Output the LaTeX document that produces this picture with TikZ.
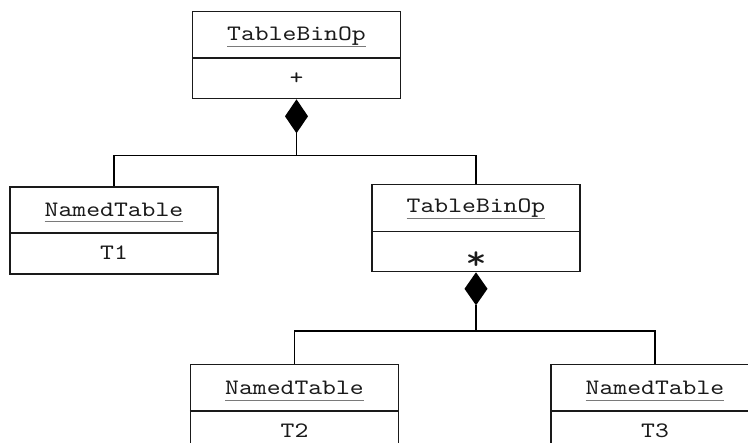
\documentclass[tikz,border=0pt]{standalone}
\usepackage{fontspec}
\setmonofont{lmmono10-regular}[Extension=.otf, FakeStretch=1.2]
\usetikzlibrary{calc}
\definecolor{ulgray}{HTML}{7A7A7A}
\definecolor{ink}{HTML}{1A1A1A}
% underlined class/object name
\newsavebox\ulbox
\newcommand\ulname[1]{\sbox\ulbox{#1}\rlap{\color{ulgray}\rule[-6pt]{\wd\ulbox}{1pt}}\usebox\ulbox}

\begin{document}
\begin{tikzpicture}[x=1pt,y=-1pt,
  objbox/.style={draw=ink, line width=1.3pt, minimum width=208pt, minimum height=87pt,
    inner sep=0pt, anchor=north},
  divider/.style={draw=ink, line width=1.3pt},
  title/.style={font=\fontsize{22}{22}\selectfont\ttfamily, text=ink, inner sep=0pt, anchor=base},
  value/.style={font=\fontsize{22}{22}\selectfont\ttfamily, text=ink, inner sep=0pt, anchor=center},
  conn/.style={draw=black, line width=1.6pt},
  composite/.style={fill=black}
]
\useasboundingbox (0,0) rectangle (748,443);
\clip (0,0) rectangle (748,443);

% object boxes
\node[objbox] (b1) at (296.5,11) {};
\node[objbox] (b2) at (114,186.5) {};
\node[objbox] (b3) at (476,184) {};
\node[objbox] (b4) at (294.5,364) {};
\node[objbox] (b5) at (655,364) {};

% compartment dividers
\draw[divider] (b1.west |- 0,58) -- (b1.east |- 0,58);
\draw[divider] (b2.west |- 0,233) -- (b2.east |- 0,233);
\draw[divider] (b3.west |- 0,231.5) -- (b3.east |- 0,231.5);
\draw[divider] (b4.west |- 0,411) -- (b4.east |- 0,411);
\draw[divider] (b5.west |- 0,411) -- (b5.east |- 0,411);

% names
\node[title] (t1) at (296.5,41) {\ulname{TableBinOp}};
\node[title] (t2) at (114,216.5) {\ulname{NamedTable}};
\node[title] (t3) at (476,213) {\ulname{TableBinOp}};
\node[title] (t4) at (294.5,395) {\ulname{NamedTable}};
\node[title] (t5) at (655,395) {\ulname{NamedTable}};

% values
\node[value] (v1) at (296.5,78.5) {+};
\node[value] (v2) at (114,252.5) {T1};
\node[value, font=\fontsize{34}{34}\selectfont\ttfamily] (v3) at (476,261) {*};
\node[value] (v4) at (294.5,431) {T2};
\node[value] (v5) at (655,431) {T3};

% composition diamonds
\fill[composite] (b1.south) -- ++(11.5,17) -- ++(-11.5,17) -- ++(-11.5,-17) -- cycle;
\fill[composite] (b3.south) -- ++(11.5,16.5) -- ++(-11.5,16.5) -- ++(-11.5,-16.5) -- cycle;
\coordinate (d1) at ($(b1.south)+(0,34)$);
\coordinate (d3) at ($(b3.south)+(0,33)$);
\coordinate (j1) at (296.5,155.5);
\coordinate (j3) at (476,331);

% connectors
\draw[conn] (d1) -- (j1);
\draw[conn] (b2.north) |- (j1) -| (b3.north);
\draw[conn] (d3) -- (j3);
\draw[conn] (b4.north) |- (j3) -| (b5.north);
\end{tikzpicture}
\end{document}
